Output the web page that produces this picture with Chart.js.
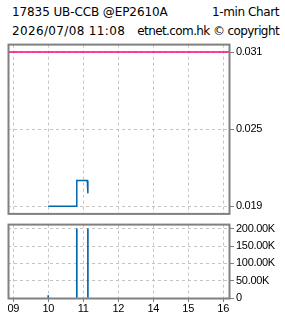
<!DOCTYPE html>
<html>
<head>
<meta charset="utf-8">
<script src="https://cdn.jsdelivr.net/npm/chart.js@4"></script>
<style>
  body { margin: 0; background: #fff; width: 285px; height: 318px; overflow: hidden; position: relative; }
  .hd { position: absolute; font-family: "DejaVu Sans", sans-serif; font-size: 12px; line-height: 14px; color: #000; white-space: nowrap; }
  canvas { position: absolute; left: 0; }
</style>
</head>
<body>
<div class="hd" style="left:12px; top:5px; letter-spacing:-0.1px">17835 UB-CCB @EP2610A</div>
<div class="hd" style="right:6px; top:5px; letter-spacing:-0.4px">1-min Chart</div>
<div class="hd" style="left:12px; top:23.5px; letter-spacing:0.35px">2026/07/08 11:08</div>
<div class="hd" style="right:6px; top:23.5px; letter-spacing:-0.6px">etnet.com.hk © copyright</div>
<canvas id="prix" width="285" height="186" style="top:36px"></canvas>
<canvas id="vol" width="285" height="102" style="top:216px"></canvas>
<script>
// données
const heures = ["10:00", "10:48", "10:49", "11:07", "11:08"];
const prix = [0.019, 0.019, 0.021, 0.021, 0.020];
const heuresVol = ["10:00", "10:49", "11:08"];
const volumes = [7000, 200000, 200000];
const cloturePrec = 0.031;
const ticksPrix = [0.019, 0.025, 0.031];
const ticksVol = [0, 50000, 100000, 150000, 200000];
const ticksHeure = ["09:00", "10:00", "11:00", "12:00", "14:00", "15:00", "16:00"];

const bleu = "rgb(0,102,170)";
const rose = "#ff0080";
const grille = "#c4c4c4";
const cadre = "#808080";

// minutes de séance depuis 09:00 (pause de midi retirée)
function versIndex(t) {
  const [h, m] = t.split(":").map(Number);
  let v = (h - 9) * 60 + m;
  if (h >= 13) v -= 60;
  return v;
}
function versHeure(v) {
  const h = v <= 180 ? 9 + v / 60 : 10 + v / 60;
  return String(Math.round(h)).padStart(2, "0");
}

const xMin = -9;
const xMax = 370;
const positionsX = ticksHeure.map(versIndex);

const cadrePlugin = {
  id: "cadre",
  beforeDraw(chart) {
    chart.ctx.letterSpacing = "-0.3px";
  },
  afterDraw(chart) {
    const a = chart.chartArea;
    const ctx = chart.ctx;
    ctx.save();
    ctx.strokeStyle = cadre;
    ctx.lineWidth = 2;
    ctx.strokeRect(a.left + 0.5, a.top, a.right - a.left, a.bottom - a.top + 0.5);
    ctx.restore();
  },
};

const policeAxe = { family: "'Liberation Sans', Arial, sans-serif", size: 11 };

function axeX(visible) {
  return {
    type: "linear",
    min: xMin,
    max: xMax,
    offset: false,
    afterBuildTicks: (s) => { s.ticks = positionsX.map((v) => ({ value: v })); },
    afterFit: (s) => { s.height = visible ? 20 : 0; },
    border: { display: false, dash: [3, 3] },
    grid: {
      color: grille,
      offset: false,
      drawTicks: visible,
      tickLength: 4,
      tickColor: cadre,
      tickBorderDash: [],
    },
    ticks: {
      display: visible,
      color: "#000",
      font: policeAxe,
      padding: 0,
      maxRotation: 0,
      autoSkip: false,
      callback: (v) => versHeure(v),
    },
  };
}

function axeY(min, max, valeurs, format) {
  return {
    type: "linear",
    position: "right",
    min: min,
    max: max,
    afterBuildTicks: (s) => { s.ticks = valeurs.map((v) => ({ value: v })); },
    afterFit: (s) => { s.width = 56; },
    border: { display: false, dash: [3, 3] },
    grid: {
      color: grille,
      tickLength: 5,
      tickColor: cadre,
      tickBorderDash: [],
    },
    ticks: { color: "#000", font: policeAxe, padding: 2, autoSkip: false, callback: format },
  };
}

// graphique des prix
new Chart(document.getElementById("prix"), {
  type: "line",
  data: {
    datasets: [
      {
        data: [{ x: xMin, y: cloturePrec }, { x: xMax, y: cloturePrec }],
        borderColor: rose,
        borderWidth: 1.5,
        pointRadius: 0,
      },
      {
        data: heures.map((t, i) => ({ x: versIndex(t), y: prix[i] })),
        borderColor: bleu,
        borderWidth: 1.5,
        pointRadius: 0,
        tension: 0,
      },
    ],
  },
  options: {
    responsive: false,
    animation: false,
    events: [],
    layout: { padding: { left: 8, right: 0, top: 6, bottom: 6 } },
    plugins: { legend: { display: false }, tooltip: { enabled: false } },
    scales: {
      x: axeX(false),
      y: axeY(0.01844, 0.03158, ticksPrix, (v) => v.toFixed(3)),
    },
  },
  plugins: [cadrePlugin],
});

// graphique des volumes
new Chart(document.getElementById("vol"), {
  type: "bar",
  data: {
    datasets: [
      {
        data: heuresVol.map((t, i) => ({ x: versIndex(t), y: volumes[i] })),
        backgroundColor: bleu,
        barThickness: 1,
      },
    ],
  },
  options: {
    responsive: false,
    animation: false,
    events: [],
    layout: { padding: { left: 8, right: 0, top: 5, bottom: 0 } },
    plugins: { legend: { display: false }, tooltip: { enabled: false } },
    scales: {
      x: axeX(true),
      y: axeY(0, 212000, ticksVol, (v) => (v === 0 ? "0" : (v / 1000).toFixed(2) + "K")),
    },
  },
  plugins: [cadrePlugin],
});
</script>
</body>
</html>
